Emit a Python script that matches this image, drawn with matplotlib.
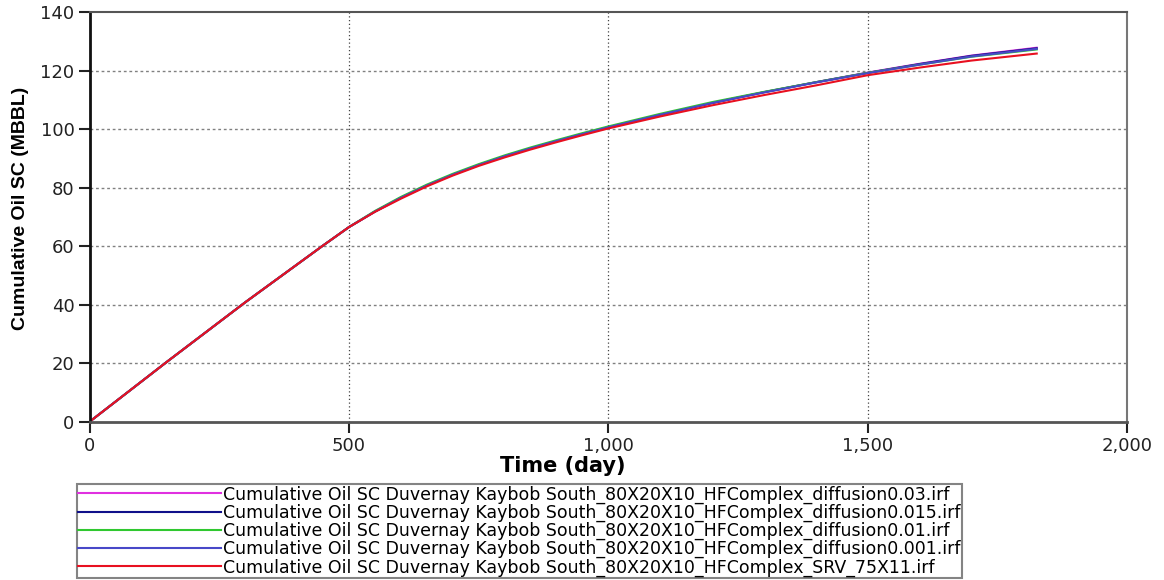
import matplotlib
matplotlib.use("Agg")
import matplotlib.pyplot as plt
from matplotlib.ticker import FuncFormatter

# Simulation time (days) and cumulative oil (MBBL) for each run
days = [0, 150, 300, 450, 500, 550, 600, 650, 700, 750, 800, 850, 900, 950,
        1000, 1100, 1200, 1300, 1400, 1500, 1600, 1700, 1826]

diff_003 = [0, 20.6, 40.8, 60.2, 66.5, 71.8, 76.5, 80.7, 84.4, 87.7, 90.7,
            93.4, 95.9, 98.3, 100.6, 104.9, 108.9, 112.6, 116.0, 119.3, 122.3,
            125.1, 127.8]
diff_0015 = [0, 20.6, 40.8, 60.2, 66.5, 71.8, 76.5, 80.7, 84.4, 87.7, 90.7,
             93.4, 95.9, 98.3, 100.6, 104.9, 108.9, 112.6, 116.0, 119.2, 122.2,
             125.0, 127.6]
diff_001 = [0, 20.6, 40.8, 60.2, 66.5, 72.0, 76.8, 81.0, 84.7, 88.0, 91.0,
            93.7, 96.2, 98.6, 100.9, 105.2, 109.2, 112.7, 116.0, 119.2, 122.0,
            124.7, 127.2]
diff_0001 = [0, 20.6, 40.8, 60.2, 66.5, 71.8, 76.5, 80.7, 84.4, 87.7, 90.7,
             93.4, 95.9, 98.3, 100.6, 104.9, 108.9, 112.5, 115.9, 119.1, 122.0,
             124.8, 127.4]
srv = [0, 20.6, 40.8, 60.2, 66.5, 71.7, 76.2, 80.4, 84.1, 87.4, 90.3,
       93.0, 95.5, 97.9, 100.2, 104.3, 108.1, 111.6, 114.9, 118.4, 121.0,
       123.4, 125.8]

labels = [
    "Cumulative Oil SC Duvernay Kaybob South_80X20X10_HFComplex_diffusion0.03.irf",
    "Cumulative Oil SC Duvernay Kaybob South_80X20X10_HFComplex_diffusion0.015.irf",
    "Cumulative Oil SC Duvernay Kaybob South_80X20X10_HFComplex_diffusion0.01.irf",
    "Cumulative Oil SC Duvernay Kaybob South_80X20X10_HFComplex_diffusion0.001.irf",
    "Cumulative Oil SC Duvernay Kaybob South_80X20X10_HFComplex_SRV_75X11.irf",
]
series = [diff_003, diff_0015, diff_001, diff_0001, srv]
colors = ["#e030e0", "#10108a", "#30c830", "#4848c8", "#e81020"]

x_ticks = [0, 500, 1000, 1500, 2000]
y_ticks = [0, 20, 40, 60, 80, 100, 120, 140]

plt.rcParams["font.family"] = ["DejaVu Sans"]

fig = plt.figure(figsize=(11.64, 5.80), dpi=100)
ax = fig.add_axes([0.0771, 0.2731, 0.8911, 0.7062])

for vals, col, lab in zip(series, colors, labels):
    ax.plot(days, vals, color=col, lw=1.5, label=lab)

ax.set_xlim(0, 2000)
ax.set_ylim(0, 140)
ax.set_xticks(x_ticks)
ax.set_yticks(y_ticks)
ax.xaxis.set_major_formatter(FuncFormatter(lambda v, p: f"{int(v):,}"))
ax.tick_params(axis="both", direction="out", length=8, width=1.5,
               labelsize=13, colors="#222222", pad=3)

# grid: dotted verticals, dashed horizontals
for xv in x_ticks[1:-1]:
    ax.axvline(xv, color="#444444", lw=0.9, ls=(0, (1, 2)), zorder=0)
for yv in y_ticks[1:-1]:
    ax.axhline(yv, color="#808080", lw=1.0, ls=(0, (2, 2)), zorder=0)

ax.spines["left"].set_color("#111111")
ax.spines["left"].set_linewidth(2.0)
ax.spines["bottom"].set_color("#555555")
ax.spines["bottom"].set_linewidth(2.0)
ax.spines["top"].set_color("#555555")
ax.spines["top"].set_linewidth(1.5)
ax.spines["right"].set_color("#777777")
ax.spines["right"].set_linewidth(1.5)

ax.set_xlabel("Time (day)", fontsize=15, fontweight="bold")
ax.xaxis.set_label_coords(0.456, -0.085)
ax.set_ylabel("Cumulative Oil SC (MBBL)", fontsize=14, fontweight="bold",
              family="Liberation Sans")
ax.yaxis.set_label_coords(-0.059, 0.52)

leg = fig.legend(loc="upper left", bbox_to_anchor=(77 / 1164, 1 - 484 / 580),
                 fontsize=12.5, frameon=True, fancybox=False, shadow=False,
                 handlelength=8.2, handletextpad=0.15, labelspacing=0.0,
                 borderpad=0.08, borderaxespad=0.0)
leg.get_frame().set_edgecolor("#666666")
leg.get_frame().set_linewidth(1.5)

fig.savefig("out.png", dpi=100, facecolor="white")
